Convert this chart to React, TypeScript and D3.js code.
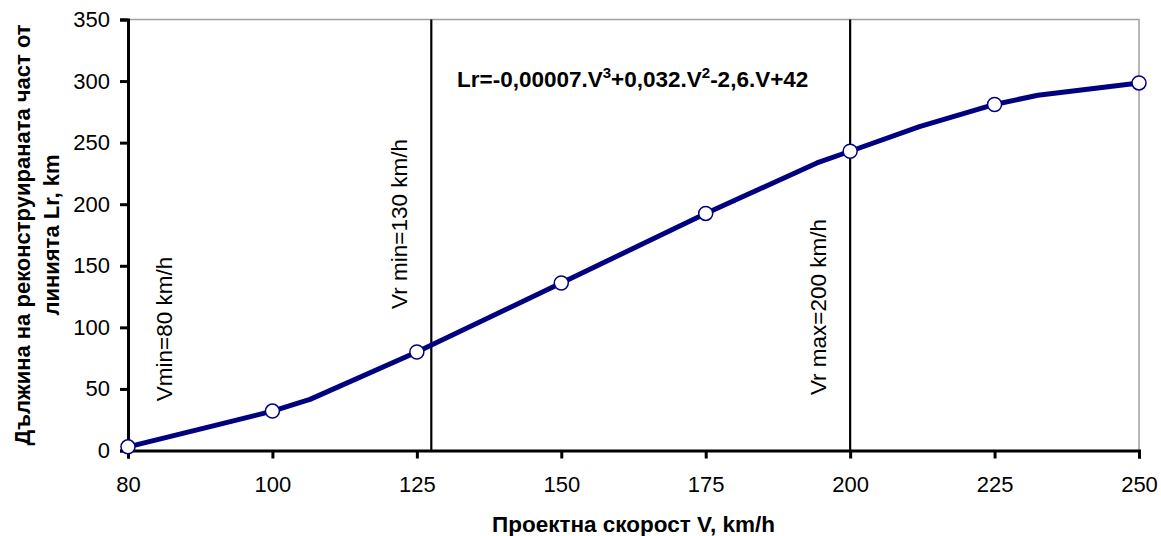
import React, { useEffect, useRef } from 'react';
import * as d3 from 'd3';

// categories on the x axis (km/h)
const speeds = [80, 100, 125, 150, 175, 200, 225, 250];
// marked values Lr (km) at each category
const lengths = [3, 32, 80, 136, 192.5, 243, 281, 298.5];
// the drawn line also bends between categories: [category index, Lr]
const curve: [number, number][] = [
  [0, 3], [0.66, 22], [1, 32], [1.26, 41.5], [2, 80], [3, 136], [4, 192.5],
  [4.77, 233.5], [5, 243], [5.48, 263], [6, 281], [6.3, 288.5], [7, 298.5],
];
const yTicks = [0, 50, 100, 150, 200, 250, 300, 350];
// vertical markers: category index where the line sits, and its label
const refIndex = [0, 2.1, 5];
const refLabels = ['Vmin=80 km/h', 'Vr min=130 km/h', 'Vr max=200 km/h'];
const refLabelFrom = [40, 115, 45]; // Lr value where the rotated label starts

const xTitle = 'Проектна скорост V, km/h';
const yTitle = ['Дължина на реконструираната част от', 'линията Lr, km'];

export default function App() {
  const ref = useRef<SVGSVGElement>(null);

  useEffect(() => {
    const svg = d3.select(ref.current);
    svg.selectAll('*').remove();

    const left = 128, right = 1139, top = 19.5, bottom = 450.5;
    const font = '"Liberation Sans", Arial, sans-serif';

    const x = d3.scaleLinear().domain([0, speeds.length - 1]).range([left, right]);
    const y = d3.scaleLinear().domain([0, 350]).range([bottom, top]);

    // frame (top / right grey)
    svg.append('path')
      .attr('d', `M${left},${top}H${right}V${bottom}`)
      .attr('fill', 'none')
      .attr('stroke', '#a0a0a0')
      .attr('stroke-width', 1.5);

    // reference verticals
    refIndex.forEach((p, i) => {
      if (i > 0) {
        svg.append('line')
          .attr('x1', x(p)).attr('x2', x(p))
          .attr('y1', top).attr('y2', bottom)
          .attr('stroke', '#000').attr('stroke-width', 2.2);
      }
      const lx = i === 0 ? x(p) + 44 : x(p) - 24;
      svg.append('text')
        .attr('transform', `translate(${lx},${y(refLabelFrom[i])}) rotate(-90)`)
        .attr('font-family', font)
        .attr('font-size', 22.5)
        .text(refLabels[i]);
    });

    // y axis
    const yAxis = svg.append('g')
      .attr('transform', `translate(${left},0)`)
      .call(d3.axisLeft(y).tickValues(yTicks).tickSize(8).tickPadding(10));
    yAxis.select('.domain').attr('stroke-width', 3);
    yAxis.selectAll('.tick line').attr('stroke-width', 3);
    yAxis.selectAll('text').attr('font-family', font).attr('font-size', 22);

    // x axis
    const xAxis = svg.append('g')
      .attr('transform', `translate(0,${bottom})`)
      .call(d3.axisBottom(x).tickValues(d3.range(speeds.length))
        .tickFormat(i => String(speeds[i as number])).tickSize(8).tickPadding(18));
    xAxis.select('.domain').attr('stroke-width', 3);
    xAxis.selectAll('.tick line').attr('stroke-width', 3);
    xAxis.selectAll('text').attr('font-family', font).attr('font-size', 22);

    // series line
    const line = d3.line<[number, number]>()
      .x(d => x(d[0]))
      .y(d => y(d[1]));
    svg.append('path')
      .datum(curve)
      .attr('fill', 'none')
      .attr('stroke', '#000080')
      .attr('stroke-width', 5)
      .attr('stroke-linejoin', 'round')
      .attr('d', line);

    svg.selectAll('circle.pt')
      .data(lengths)
      .join('circle')
      .attr('class', 'pt')
      .attr('cx', (_, i) => x(i))
      .attr('cy', d => y(d))
      .attr('r', 7)
      .attr('fill', '#fff')
      .attr('stroke', '#000080')
      .attr('stroke-width', 1.5);

    // equation
    const eq = svg.append('text')
      .attr('x', 457).attr('y', 87)
      .attr('font-family', font).attr('font-size', 22.5).attr('font-weight', 'bold');
    eq.append('tspan').text('Lr=-0,00007.V');
    eq.append('tspan').attr('dy', -9).attr('font-size', 15).text('3');
    eq.append('tspan').attr('dy', 9).text('+0,032.V');
    eq.append('tspan').attr('dy', -9).attr('font-size', 15).text('2');
    eq.append('tspan').attr('dy', 9).text('-2,6.V+42');

    // axis titles
    svg.append('text')
      .attr('x', (left + right) / 2).attr('y', 532)
      .attr('text-anchor', 'middle')
      .attr('font-family', font).attr('font-size', 22.5).attr('font-weight', 'bold')
      .text(xTitle);

    yTitle.forEach((t, i) => {
      svg.append('text')
        .attr('transform', `translate(${30 + i * 29},${(top + bottom) / 2}) rotate(-90)`)
        .attr('text-anchor', 'middle')
        .attr('font-family', font).attr('font-size', 22).attr('font-weight', 'bold')
        .text(t);
    });
  }, []);

  return (
    <svg ref={ref} width={1161} height={536}
      style={{ position: 'absolute', left: 0, top: 0, background: '#fff' }} />
  );
}
